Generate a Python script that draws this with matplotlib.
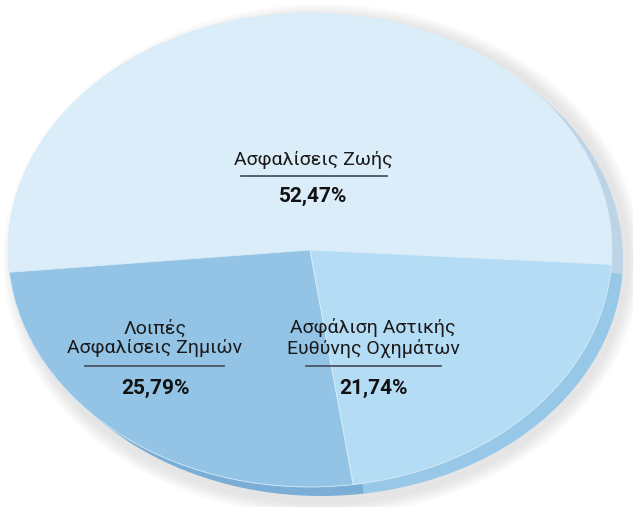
import matplotlib
matplotlib.use('Agg')
import matplotlib.pyplot as plt
import matplotlib.patches as patches
from matplotlib.lines import Line2D

# Δεδομένα
labels = ['Ασφαλίσεις Ζωής', 'Λοιπές\nΑσφαλίσεις Ζημιών', 'Ασφάλιση Αστικής\nΕυθύνης Οχημάτων']
values = [52.47, 25.79, 21.74]
top_colors = ['#dcedfa', '#93c4e6', '#b5dcf5']
rim_colors = ['#bcd4e6', '#7aaed6', '#98c8e8']

FONT = ['Roboto', 'DejaVu Sans']

W, H = 633, 507
fig = plt.figure(figsize=(W / 100, H / 100), dpi=100)
ax = fig.add_axes([0, 0, 1, 1])

# κέντρο και ακτίνες της έλλειψης σε pixel
CX, CY = 310, 250
RX, RY = 302, 237

def px(x, y):
    return (x - CX) / RX, (CY - y) / RY

# σκιά (κυρίως δεξιά και κάτω)
for i in range(7):
    e = patches.Ellipse(px(CX + 12, CY + 10), 2 + (i * 4 + 10) / RX, 2 + (i * 4 + 14) / RY,
                        facecolor='#a0a0a0', edgecolor='none', alpha=0.04, zorder=0)
    ax.add_patch(e)

start = -3.5
# πλευρά (rim) της πίτας
ax.pie(values, colors=rim_colors, startangle=start, counterclock=True,
       center=px(CX + 11, CY + 9), radius=1,
       wedgeprops=dict(edgecolor='none', linewidth=0), frame=True)
# επάνω επιφάνεια
ax.pie(values, colors=top_colors, startangle=start, counterclock=True,
       center=(0, 0), radius=1,
       wedgeprops=dict(edgecolor='#d8ecf8', linewidth=0.6), frame=True)

ax.set_aspect('auto')
ax.set_xlim(-CX / RX, (W - CX) / RX)
ax.set_ylim((CY - H) / RY, CY / RY)
ax.axis('off')

# ετικέτες
label_pos = [(313, 160, 176, 241, 387, 196),
             (155, 338, 366, 85, 224, 388),
             (373, 338, 366, 306, 441, 388)]
for lab, val, (x, y, uy, ux0, ux1, py) in zip(labels, values, label_pos):
    fig.text(x / W, 1 - y / H, lab, ha='center', va='center', fontsize=14,
             family=FONT, color='#1a1a1a', linespacing=1.1)
    fig.add_artist(Line2D([ux0 / W, ux1 / W], [1 - uy / H, 1 - uy / H],
                          color='#4a5663', linewidth=1.3))
    pct = f'{val:.2f}'.replace('.', ',') + '%'
    fig.text(x / W, 1 - py / H, pct, ha='center', va='center', fontsize=15,
             family=FONT, weight='bold', color='#111111')

fig.savefig('out.png', dpi=100)
